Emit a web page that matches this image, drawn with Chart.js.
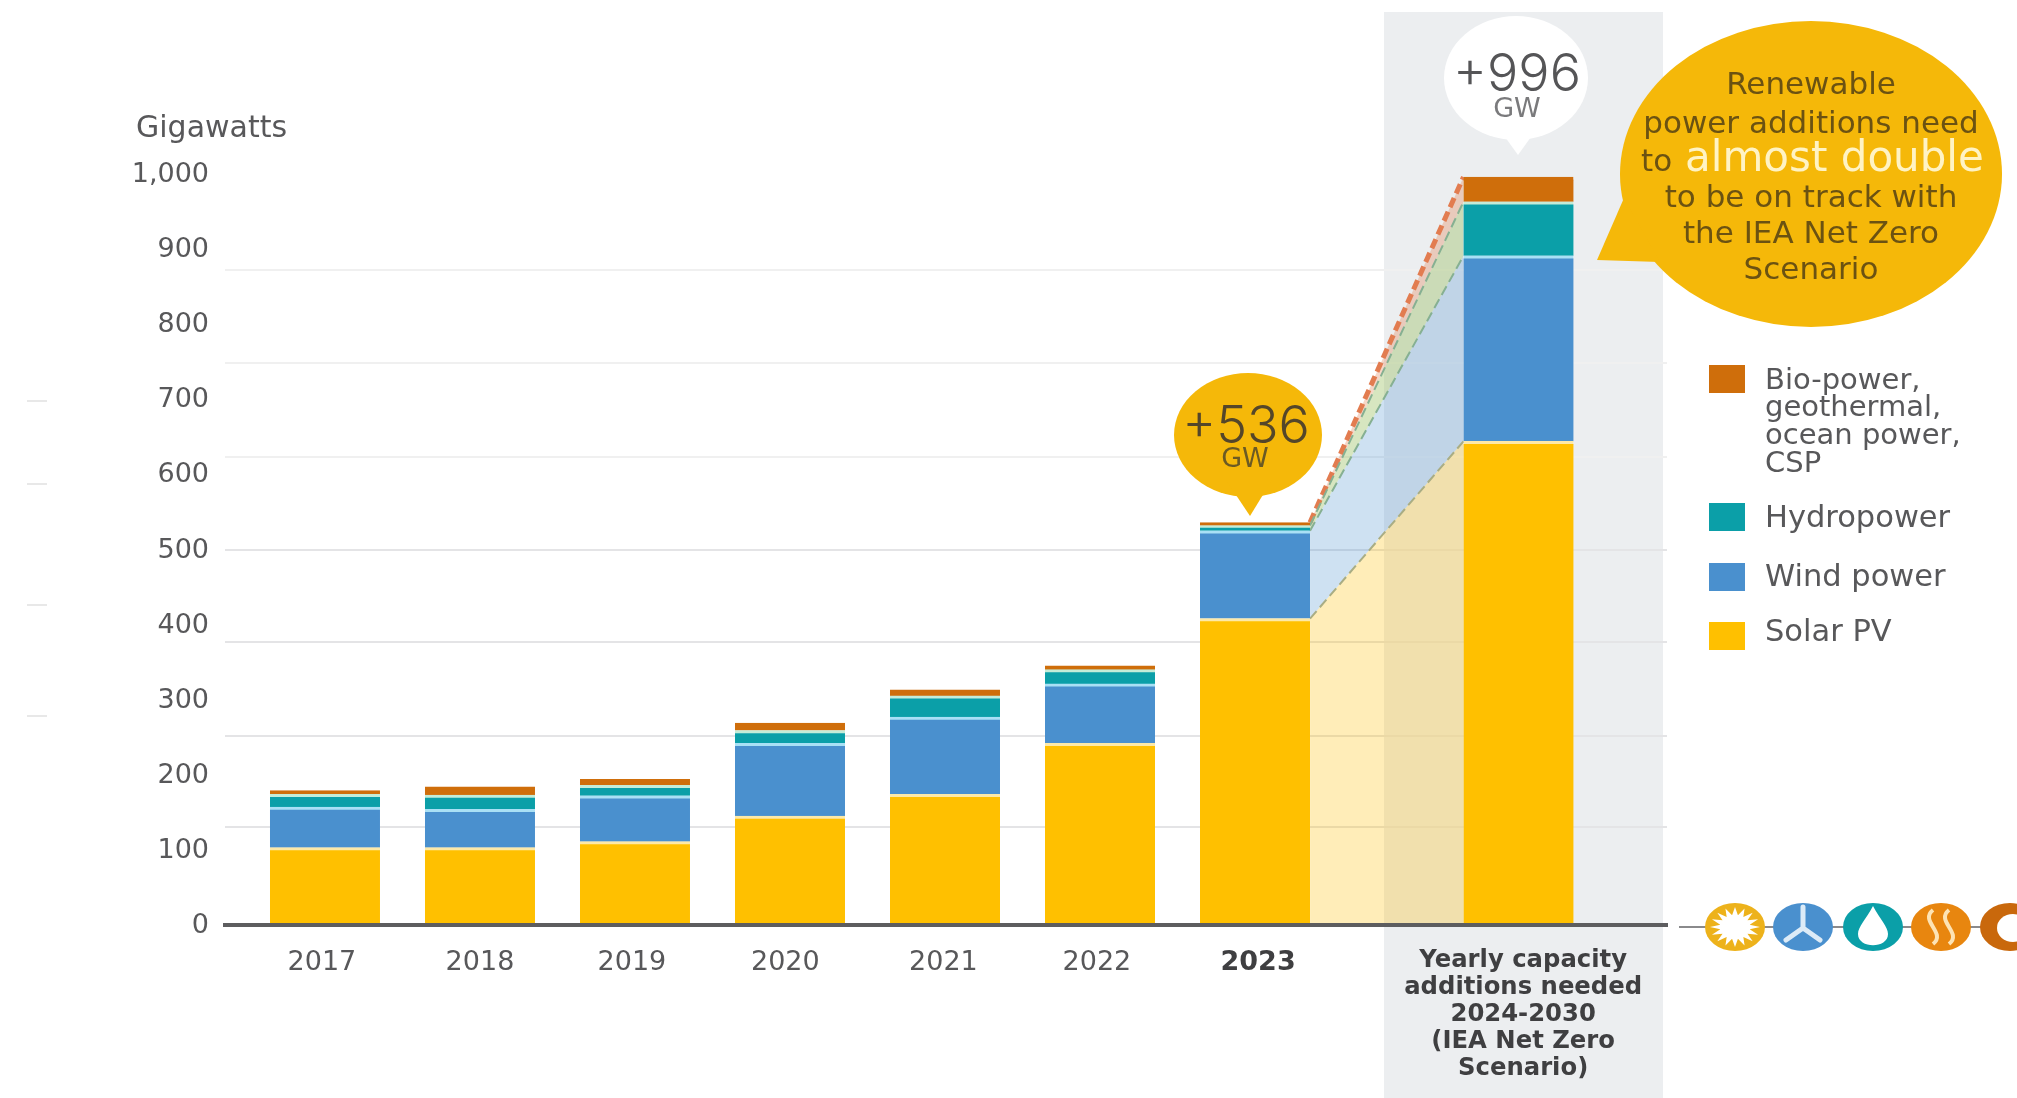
<!DOCTYPE html>
<html>
<head>
<meta charset="utf-8">
<title>Renewable power additions</title>
<script src="https://cdn.jsdelivr.net/npm/chart.js@4"></script>
<style>
  html, body { margin: 0; padding: 0; background: #fff; }
  canvas { display: block; }
</style>
</head>
<body>
<canvas id="additions" width="2017" height="1098"></canvas>
<script>
const categories = ['2017', '2018', '2019', '2020', '2021', '2022', '2023',
    ['Yearly capacity', 'additions needed', '2024-2030', '(IEA Net Zero', 'Scenario)']];
// last column sits a bit further out than the yearly spacing
const slots = [0, 1, 2, 3, 4, 5, 6, 7.7];
// the labels don't sit quite centred under their columns
const labelSlots = [-0.02, 1, 1.98, 2.97, 3.99, 4.98, 6.02, 7.73];

const solarPv = [103, 103, 111, 145, 174, 242, 408, 644];
const windPower = [54, 51, 61, 97, 103, 79, 117, 247];
const hydropower = [17, 19, 14, 17, 28, 19, 7, 72];
const bioOther = [5, 11, 8, 10, 8, 5, 4, 33];

const yTicks = [0, 100, 200, 300, 400, 500, 600, 700, 800, 900, 1000];
const ruleValues = [130, 252, 377, 500, 623, 748, 872];

const SOLAR = '#ffc000';
const WIND = '#4a90ce';
const HYDRO = '#0b9fa8';
const BIO = '#cf6e0b';
const TEXT = '#58585a';
const FONT = '"DejaVu Sans", sans-serif';
const LIGHT = 'Inter, "Noto Sans", sans-serif';
const BAR_WIDTH = 110;
const BAR_HALF = 0.355; // half a bar in slot units

function sumColumn(i) {
    return solarPv[i] + windPower[i] + hydropower[i] + bioOther[i];
}

function barSeries(label, values, color, edge) {
    return {
        label: label,
        data: values.map((v, i) => ({ x: slots[i], y: v })),
        backgroundColor: color,
        borderColor: edge,
        borderWidth: { top: 3, right: 0, bottom: 0, left: 0 },
        borderSkipped: false,
        barThickness: BAR_WIDTH,
        order: 1
    };
}

// wedge from the 2023 column across to the needed column
function wedge(label, values, fill, line, width, target) {
    return {
        type: 'line',
        label: label,
        data: [
            { x: slots[6] + BAR_HALF, y: values[6] },
            { x: slots[7] - BAR_HALF, y: values[7] }
        ],
        backgroundColor: fill,
        borderColor: line,
        borderWidth: width,
        borderDash: [10, 5],
        pointRadius: 0,
        fill: target,
        order: 2
    };
}

function put(ctx, str, x, y, font, color, align) {
    ctx.font = font;
    ctx.fillStyle = color;
    ctx.textAlign = align || 'center';
    ctx.textBaseline = 'middle';
    ctx.fillText(str, x, y);
}

function bubble(ctx, cx, cy, rx, ry, tail, color) {
    ctx.fillStyle = color;
    ctx.beginPath();
    ctx.ellipse(cx, cy, rx, ry, 0, 0, Math.PI * 2);
    ctx.fill();
    ctx.beginPath();
    ctx.moveTo(tail[0], tail[1]);
    ctx.lineTo(tail[2], tail[3]);
    ctx.lineTo(tail[4], tail[5]);
    ctx.closePath();
    ctx.fill();
}

function drawIcons(ctx) {
    const y = 927;

    ctx.strokeStyle = '#8a8a8c';
    ctx.lineWidth = 2;
    ctx.beginPath();
    ctx.moveTo(1679, y);
    ctx.lineTo(2017, y);
    ctx.stroke();

    // sun
    ctx.fillStyle = '#edb21b';
    ctx.beginPath();
    ctx.ellipse(1735, y, 30, 24, 0, 0, Math.PI * 2);
    ctx.fill();
    ctx.fillStyle = '#fff';
    ctx.beginPath();
    for (let i = 0; i < 32; i++) {
        const a = i * Math.PI / 16;
        const r = i % 2 ? 0.6 : 1;
        const px = 1735 + Math.cos(a) * 25 * r;
        const py = y + Math.sin(a) * 20 * r;
        i ? ctx.lineTo(px, py) : ctx.moveTo(px, py);
    }
    ctx.closePath();
    ctx.fill();

    // turbine
    ctx.fillStyle = WIND;
    ctx.beginPath();
    ctx.ellipse(1803, y, 30, 24, 0, 0, Math.PI * 2);
    ctx.fill();
    ctx.strokeStyle = '#dcebf7';
    ctx.lineWidth = 5;
    ctx.lineCap = 'round';
    ctx.beginPath();
    ctx.moveTo(1803, y - 20);
    ctx.lineTo(1803, y + 1);
    ctx.lineTo(1786, y + 13);
    ctx.moveTo(1803, y + 1);
    ctx.lineTo(1820, y + 13);
    ctx.stroke();
    ctx.lineCap = 'butt';

    // drop
    ctx.fillStyle = HYDRO;
    ctx.beginPath();
    ctx.ellipse(1873, y, 30, 24, 0, 0, Math.PI * 2);
    ctx.fill();
    ctx.fillStyle = '#fff';
    ctx.beginPath();
    ctx.moveTo(1873, y - 21);
    ctx.bezierCurveTo(1866, y - 8, 1858, y, 1858, y + 7);
    ctx.bezierCurveTo(1858, y + 22, 1888, y + 22, 1888, y + 7);
    ctx.bezierCurveTo(1888, y, 1880, y - 8, 1873, y - 21);
    ctx.fill();

    // geothermal waves
    ctx.fillStyle = '#e8860f';
    ctx.beginPath();
    ctx.ellipse(1941, y, 30, 24, 0, 0, Math.PI * 2);
    ctx.fill();
    ctx.strokeStyle = '#fde3b4';
    ctx.lineWidth = 4;
    [1933, 1949].forEach(x => {
        ctx.beginPath();
        ctx.moveTo(x, y - 17);
        ctx.bezierCurveTo(x - 14, y - 6, x + 14, y + 6, x, y + 17);
        ctx.stroke();
    });

    // bio, runs off the edge
    ctx.fillStyle = '#c9680c';
    ctx.beginPath();
    ctx.ellipse(2010, y, 30, 24, 0, 0, Math.PI * 2);
    ctx.fill();
    ctx.fillStyle = '#fff';
    ctx.beginPath();
    ctx.ellipse(2013, y + 1, 16, 14, 0, 0, Math.PI * 2);
    ctx.fill();
}

const backdrop = {
    id: 'backdrop',
    beforeDraw(chart) {
        const ctx = chart.ctx;
        ctx.save();
        ctx.fillStyle = '#fff';
        ctx.fillRect(0, 0, chart.width, chart.height);
        ctx.fillStyle = '#eceef0';
        ctx.fillRect(1384, 12, 279, 1086);

        // stray marks on the far left
        ctx.fillStyle = '#e8e8e8';
        [400, 483, 604, 715].forEach(y => ctx.fillRect(27, y, 20, 2));
        ctx.restore();
    }
};

const notes = {
    id: 'notes',
    afterDraw(chart) {
        const ctx = chart.ctx;
        ctx.save();

        put(ctx, 'Gigawatts', 136, 129, '400 30px ' + FONT, TEXT, 'left');

        // total for 2023
        bubble(ctx, 1248, 435, 74, 62, [1226, 480, 1250, 516, 1272, 480], '#f5b809');
        put(ctx, '+' + sumColumn(6), 1246, 427, '300 52px ' + LIGHT, '#54462a');
        put(ctx, 'GW', 1245, 460, '400 27px ' + FONT, '#6b5a24');

        // total for the needed column
        bubble(ctx, 1516, 78, 72, 62, [1500, 130, 1518, 155, 1536, 130], '#fff');
        put(ctx, '+' + sumColumn(7), 1517, 75, '300 52px ' + LIGHT, '#555557');
        put(ctx, 'GW', 1517, 110, '400 27px ' + FONT, '#7a7a7c');

        // call-out
        bubble(ctx, 1811, 174, 191, 153, [1597, 260, 1624, 198, 1660, 262], '#f5b809');
        const dark = '#6b5212';
        const body = '400 31px ' + FONT;
        put(ctx, 'Renewable', 1811, 86, body, dark);
        put(ctx, 'power additions need', 1811, 125, body, dark);
        put(ctx, 'to', 1641, 163, body, dark, 'left');
        put(ctx, 'almost double', 1685, 160, '400 42px ' + FONT, '#fff3c4', 'left');
        put(ctx, 'to be on track with', 1811, 199, body, dark);
        put(ctx, 'the IEA Net Zero', 1811, 235, body, dark);
        put(ctx, 'Scenario', 1811, 271, body, dark);

        // key
        [[365, BIO], [503, HYDRO], [563, WIND], [622, SOLAR]].forEach(k => {
            ctx.fillStyle = k[1];
            ctx.fillRect(1709, k[0], 36, 28);
        });
        const keyFont = '400 29px ' + FONT;
        const oneLine = '400 30.5px ' + FONT;
        put(ctx, 'Bio-power,', 1765, 381, keyFont, TEXT, 'left');
        put(ctx, 'geothermal,', 1765, 408, keyFont, TEXT, 'left');
        put(ctx, 'ocean power,', 1765, 436, keyFont, TEXT, 'left');
        put(ctx, 'CSP', 1765, 464, keyFont, TEXT, 'left');
        put(ctx, 'Hydropower', 1765, 519, oneLine, TEXT, 'left');
        put(ctx, 'Wind power', 1765, 578, oneLine, TEXT, 'left');
        put(ctx, 'Solar PV', 1765, 633, oneLine, TEXT, 'left');

        drawIcons(ctx);
        ctx.restore();
    }
};

new Chart(document.getElementById('additions').getContext('2d'), {
    type: 'bar',
    data: {
        datasets: [
            barSeries('Solar PV', solarPv, SOLAR, '#fde9a8'),
            barSeries('Wind power', windPower, WIND, '#a9e0f5'),
            barSeries('Hydropower', hydropower, HYDRO, '#c4ecd8'),
            barSeries('Bio-power, geothermal, ocean power, CSP', bioOther, BIO, BIO),
            wedge('Solar PV gap', solarPv, 'rgba(255, 192, 0, 0.28)', '#a9ad84', 2, 'origin'),
            wedge('Wind power gap', windPower, 'rgba(74, 144, 206, 0.27)', '#86b092', 2, '-1'),
            wedge('Hydropower gap', hydropower, 'rgba(150, 190, 90, 0.38)', '#86b092', 2, '-1'),
            wedge('Bio gap', bioOther, 'rgba(225, 120, 70, 0.3)', '#e27c50', 5, '-1')
        ]
    },
    options: {
        responsive: false,
        animation: false,
        layout: { padding: { top: 174, right: 350, bottom: 0, left: 0 } },
        plugins: {
            legend: { display: false },
            tooltip: { enabled: false }
        },
        scales: {
            x: {
                type: 'linear',
                stacked: true,
                offset: false,
                bounds: 'data',
                min: -0.645,
                max: 8.658,
                afterBuildTicks: scale => {
                    scale.ticks = labelSlots.map(v => ({ value: v }));
                },
                afterFit: scale => {
                    scale.height = 173;
                },
                grid: { display: false },
                border: { color: '#5d5d5f', width: 4, z: 1 },
                ticks: {
                    autoSkip: false,
                    maxRotation: 0,
                    padding: 14,
                    color: ctx => (ctx.index >= 6 ? '#3f3f41' : TEXT),
                    font: ctx => ({
                        family: FONT,
                        size: ctx.index === 7 ? 24.3 : 27,
                        weight: ctx.index >= 6 ? '700' : '400',
                        lineHeight: ctx.index === 7 ? 1.11 : 1.2
                    }),
                    callback: (value, index) => categories[index]
                }
            },
            y: {
                stacked: true,
                min: 0,
                max: 1000,
                afterBuildTicks: scale => {
                    scale.ticks = yTicks.map(v => ({ value: v }));
                },
                afterFit: scale => {
                    scale.width = 225;
                },
                grid: { display: false },
                border: { display: false },
                ticks: {
                    padding: 8,
                    labelOffset: 1,
                    color: TEXT,
                    font: { family: FONT, size: 27, weight: '400' },
                    callback: value => value.toLocaleString('en-US')
                }
            },
            // horizontal rules run on their own spacing
            rules: {
                position: 'left',
                min: 0,
                max: 1000,
                afterBuildTicks: scale => {
                    scale.ticks = ruleValues.map(v => ({ value: v }));
                },
                afterFit: scale => {
                    scale.width = 0;
                },
                ticks: { display: false },
                border: { display: false },
                grid: {
                    drawTicks: false,
                    lineWidth: 2,
                    color: ctx => (ctx.tick.value > 550 ? '#f0f0f0' : '#e4e4e6')
                }
            }
        }
    },
    plugins: [backdrop, notes]
});
</script>
</body>
</html>
